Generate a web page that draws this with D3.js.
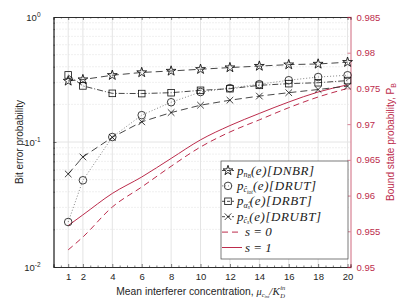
<!DOCTYPE html>
<html>
<head>
<meta charset="utf-8">
<script src="https://cdn.jsdelivr.net/npm/d3@7"></script>
<style>
body { margin: 0; background: #fff; }
svg { font-family: "Liberation Sans", Arial, sans-serif; }
</style>
</head>
<body>
<script>
// data
const xVals = [1, 2, 4, 6, 8, 10, 12, 14, 16, 18, 20]
const dnbr  = [0.308, 0.316, 0.342, 0.36, 0.37, 0.382, 0.394, 0.405, 0.416, 0.421, 0.435]
const drut  = [0.0229, 0.0494, 0.1096, 0.164, 0.208, 0.251, 0.27, 0.29, 0.312, 0.331, 0.342]
const drbt  = [0.344, 0.281, 0.245, 0.244, 0.248, 0.259, 0.267, 0.284, 0.293, 0.298, 0.31]
const drubt = [0.0555, 0.0759, 0.109, 0.145, 0.172, 0.197, 0.216, 0.233, 0.248, 0.263, 0.28]
const pbS0  = [0.9524, 0.9542, 0.9584, 0.9612, 0.9641, 0.9668, 0.9689, 0.9706, 0.9723, 0.9738, 0.975]
const pbS1  = [0.9558, 0.9573, 0.9603, 0.9626, 0.9652, 0.9678, 0.9698, 0.9715, 0.9731, 0.9745, 0.9755]
const xTicks = [1, 2, 4, 6, 8, 10, 12, 14, 16, 18, 20]
const rightTicks = [0.95, 0.955, 0.96, 0.965, 0.97, 0.975, 0.98, 0.985]

const red = "#bc2c4c"
const mathFont = "'Liberation Serif', 'Times New Roman', serif"
const W = 409, H = 307
const svg = d3.select("body").append("svg").attr("width", W).attr("height", H)

const pLeft = 53.5, pRight = 350.5, pTop = 17, pBottom = 267
const x = d3.scaleLinear().domain([0, 20.2]).range([pLeft, pRight])
const y = d3.scaleLog().domain([0.01, 1]).range([pBottom, pTop])
const yR = d3.scaleLinear().domain([0.95, 0.985]).range([pBottom, pTop])

// grid
const grid = svg.append("g")
const minors = []
for (let e = -2; e < 0; e++) for (let m = 2; m <= 9; m++) minors.push(m * Math.pow(10, e))
grid.selectAll(".minor").data(minors).enter().append("line")
  .attr("x1", pLeft).attr("x2", pRight)
  .attr("y1", d => y(d)).attr("y2", d => y(d))
  .attr("stroke", "#d4d4d4").attr("stroke-width", 0.7).attr("stroke-dasharray", "1,2")
grid.selectAll(".major").data([0.1]).enter().append("line")
  .attr("x1", pLeft).attr("x2", pRight)
  .attr("y1", d => y(d)).attr("y2", d => y(d))
  .attr("stroke", "#e4e4e4").attr("stroke-width", 1)
grid.selectAll(".vx").data(xTicks).enter().append("line")
  .attr("x1", d => x(d)).attr("x2", d => x(d))
  .attr("y1", pTop).attr("y2", pBottom)
  .attr("stroke", "#e4e4e4").attr("stroke-width", 1)

// axes
const xAx = svg.append("g").attr("transform", "translate(0," + pBottom + ")")
  .call(d3.axisBottom(x).tickValues(xTicks).tickSize(-3).tickPadding(6))
const xTopAx = svg.append("g").attr("transform", "translate(0," + pTop + ")")
  .call(d3.axisTop(x).tickValues(xTicks).tickSize(-3).tickFormat(""))
const minorX = d3.range(0.5, 20.2, 0.5).filter(d => xTicks.indexOf(d) < 0)
svg.append("g").attr("transform", "translate(0," + pBottom + ")")
  .call(d3.axisBottom(x).tickValues(minorX).tickSize(-1.5).tickFormat(""))
svg.append("g").attr("transform", "translate(0," + pTop + ")")
  .call(d3.axisTop(x).tickValues(minorX).tickSize(-1.5).tickFormat(""))

const yAx = svg.append("g").attr("transform", "translate(" + pLeft + ",0)")
  .call(d3.axisLeft(y).tickValues([0.01, 0.1, 1]).tickSize(-3).tickFormat(""))
svg.append("g").attr("transform", "translate(" + pLeft + ",0)")
  .call(d3.axisLeft(y).tickValues(minors).tickSize(-1.5).tickFormat(""))

const yRAx = svg.append("g").attr("transform", "translate(" + pRight + ",0)")
  .call(d3.axisRight(yR).tickValues(rightTicks).tickSize(-3).tickPadding(6).tickFormat(d3.format("")))

svg.selectAll(".domain").attr("stroke", "#262626").attr("stroke-width", 0.8)
svg.selectAll(".tick line").attr("stroke", "#262626").attr("stroke-width", 0.6)
svg.selectAll(".tick text").attr("font-size", 9.5).attr("fill", "#262626")
  .attr("font-family", "Liberation Sans, Arial, sans-serif")
yRAx.select(".domain").attr("stroke", red).attr("stroke-opacity", 0.45).attr("stroke-width", 1.6)
yRAx.selectAll(".tick line").attr("stroke", red)
yRAx.selectAll(".tick text").attr("fill", red)

// left tick labels 10^n
const powLabels = svg.append("g")
;[[1, "0"], [0.1, "-1"], [0.01, "-2"]].forEach(function(p) {
  const t = powLabels.append("text").attr("x", pLeft - 13).attr("y", y(p[0]) + 4)
    .attr("text-anchor", "end").attr("font-size", 9.5).attr("fill", "#262626")
  t.append("tspan").text("10")
  t.append("tspan").text(p[1]).attr("font-size", 6.5).attr("dy", -4)
})

// curves
const line = d3.line().x((d, i) => x(xVals[i])).y(d => y(d))
const lineR = d3.line().x((d, i) => x(xVals[i])).y(d => yR(d)).curve(d3.curveMonotoneX)

svg.append("path").attr("d", lineR(pbS0)).attr("fill", "none")
  .attr("stroke", red).attr("stroke-width", 1).attr("stroke-dasharray", "6,4")
svg.append("path").attr("d", lineR(pbS1)).attr("fill", "none")
  .attr("stroke", red).attr("stroke-width", 1)

const series = [
  {vals: dnbr, dash: "7,4", color: "#333", marker: "star"},
  {vals: drut, dash: "1,2", color: "#777", marker: "circle"},
  {vals: drbt, dash: "6,2,1,2", color: "#333", marker: "square"},
  {vals: drubt, dash: "7,4", color: "#333", marker: "x"}
]

function drawMarker(g, type, cx, cy) {
  if (type == "star") {
    g.append("path").attr("d", d3.symbol(d3.symbolStar, 30)())
      .attr("transform", "translate(" + cx + "," + cy + ")")
      .attr("fill", "none").attr("stroke", "#111").attr("stroke-width", 0.9)
  } else if (type == "circle") {
    g.append("circle").attr("cx", cx).attr("cy", cy).attr("r", 3.8)
      .attr("fill", "none").attr("stroke", "#111").attr("stroke-width", 0.8)
  } else if (type == "square") {
    g.append("rect").attr("x", cx - 3.3).attr("y", cy - 3.3).attr("width", 6.6).attr("height", 6.6)
      .attr("fill", "none").attr("stroke", "#111").attr("stroke-width", 0.8)
  } else {
    g.append("path").attr("d", "M-3.3,-3.3L3.3,3.3M-3.3,3.3L3.3,-3.3")
      .attr("transform", "translate(" + cx + "," + cy + ")")
      .attr("fill", "none").attr("stroke", "#111").attr("stroke-width", 0.8)
  }
}

series.forEach(function(s) {
  svg.append("path").attr("d", line(s.vals)).attr("fill", "none")
    .attr("stroke", s.color).attr("stroke-width", 0.9).attr("stroke-dasharray", s.dash)
  const g = svg.append("g")
  s.vals.forEach((v, i) => drawMarker(g, s.marker, x(xVals[i]), y(v)))
})

// legend
const lg = svg.append("g")
lg.append("rect").attr("x", 221).attr("y", 161).attr("width", 127).attr("height", 98)
  .attr("fill", "#fff").attr("stroke", "#444").attr("stroke-width", 0.7)
const legendRows = [
  {sub: "n", subsub: "B", rest: "(e)[DNBR]", s: series[0]},
  {sub: "ĉ", subsub: "tot", rest: "(e)[DRUT]", s: series[1]},
  {sub: "α̂", subsub: "s", rest: "(e)[DRBT]", s: series[2]},
  {sub: "ĉ", subsub: "s", rest: "(e)[DRUBT]", s: series[3]}
]
legendRows.forEach(function(r, i) {
  const ly = 170.5 + i * 15.4
  lg.append("line").attr("x1", 222).attr("x2", 234).attr("y1", ly).attr("y2", ly)
    .attr("stroke", r.s.color).attr("stroke-width", 0.9).attr("stroke-dasharray", r.s.marker == "circle" ? "1,2" : "3,2")
  drawMarker(lg, r.s.marker, 228, ly)
  const t = lg.append("text").attr("font-family", mathFont).attr("font-style", "italic")
    .attr("x", 237).attr("y", ly + 4).attr("font-size", 13).attr("fill", "#222")
  t.append("tspan").text("p")
  t.append("tspan").text(r.sub).attr("font-size", 8).attr("dy", 2.5)
  t.append("tspan").text(r.subsub).attr("font-size", 5.5).attr("dy", 1.2)
  t.append("tspan").text(r.rest).attr("dy", -3.7).attr("letter-spacing", 0.6)
})
;[["6,4", "s = 0"], [null, "s = 1"]].forEach(function(r, i) {
  const ly = 170.5 + (4 + i) * 15.4
  lg.append("line").attr("x1", 222).attr("x2", 242).attr("y1", ly).attr("y2", ly)
    .attr("stroke", red).attr("stroke-width", 1).attr("stroke-dasharray", r[0])
  lg.append("text").attr("font-family", mathFont).attr("font-style", "italic")
    .attr("x", 245).attr("y", ly + 4).attr("font-size", 13).attr("fill", "#222").text(r[1])
})

// axis titles
svg.append("text").attr("transform", "translate(23," + ((pTop + pBottom) / 2) + ") rotate(-90)")
  .attr("text-anchor", "middle").attr("font-size", 10).attr("fill", "#262626")
  .text("Bit error probability")

const xt = svg.append("text").attr("x", 56).attr("y", 295)
  .attr("font-size", 10.3).attr("fill", "#262626")
xt.append("tspan").text("Mean interferer concentration, ")
xt.append("tspan").attr("font-family", mathFont).attr("font-style", "italic").text("μ")
xt.append("tspan").attr("font-family", mathFont).attr("font-style", "italic").attr("font-size", 6.5).attr("dy", 2).text("c")
xt.append("tspan").attr("font-family", mathFont).attr("font-style", "italic").attr("font-size", 4.5).attr("dy", 1).text("int")
xt.append("tspan").attr("font-family", mathFont).attr("font-style", "italic").attr("font-size", 11).attr("dy", -3).text("/K")
const xtEnd = 56 + xt.node().getComputedTextLength()
// stacked super/subscript on K, centred under the title
const shift = ((pLeft + pRight) / 2) - (56 + xtEnd + 8) / 2
xt.attr("x", 56 + shift)
svg.append("text").attr("font-family", mathFont).attr("font-style", "italic")
  .attr("x", xtEnd + shift + 0.5).attr("y", 290)
  .attr("font-size", 6.5).attr("fill", "#262626").text("in")
svg.append("text").attr("font-family", mathFont).attr("font-style", "italic")
  .attr("x", xtEnd + shift + 0.5).attr("y", 298)
  .attr("font-size", 6.5).attr("fill", "#262626").text("D")

const rt = svg.append("text").attr("transform", "translate(394," + ((pTop + pBottom) / 2) + ") rotate(-90)")
  .attr("text-anchor", "middle").attr("font-size", 10).attr("fill", red)
rt.append("tspan").text("Bound state probability, P")
rt.append("tspan").attr("font-size", 7).attr("dy", 2).text("B")
</script>
</body>
</html>
